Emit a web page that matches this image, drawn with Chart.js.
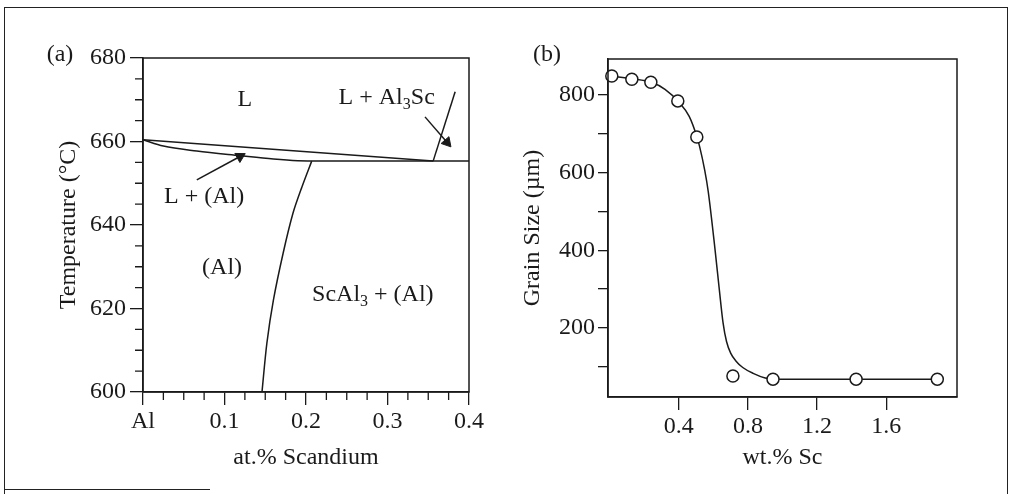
<!DOCTYPE html>
<html>
<head>
<meta charset="utf-8">
<script src="https://cdn.jsdelivr.net/npm/chart.js@4.4.1/dist/chart.umd.min.js"></script>
<style>
  html, body { margin: 0; padding: 0; background: #fff; }
  body { width: 1017px; height: 494px; position: relative; overflow: hidden; font-family: "Liberation Serif", serif; color: #1a1a1a; }
  canvas { position: absolute; top: 0; }
  #chartA { left: 0; }
  #chartB { left: 500px; }
  .frame { position: absolute; box-sizing: border-box; left: 4px; top: 7px; width: 1004px; height: 500px; border: 1.5px solid #222; border-bottom: none; }
  .frame-foot { position: absolute; left: 4px; top: 489px; width: 206px; border-top: 1.5px solid #222; }
  .panel { position: absolute; font-size: 24px; line-height: 1; transform: translate(-50%, -50%); }
</style>
</head>
<body>
<div class="frame"></div>
<div class="frame-foot"></div>
<canvas id="chartA" width="500" height="494"></canvas>
<canvas id="chartB" width="517" height="494"></canvas>
<div class="panel" style="left:60px;top:53px">(a)</div>
<div class="panel" style="left:547px;top:53px">(b)</div>
<script>
const ink = "#1a1a1a";

// (a) Al-Sc phase diagram
const scTicks = [0, 0.1, 0.2, 0.3, 0.4];
const scTickLabels = ["Al", "0.1", "0.2", "0.3", "0.4"];
const scMinorTicks = [0.025, 0.05, 0.075, 0.125, 0.15, 0.175, 0.225, 0.25, 0.275, 0.325, 0.35, 0.375];
const tempTicks = [600, 620, 640, 660, 680];
const tempMinorTicks = [605, 610, 615, 625, 630, 635, 645, 650, 655, 665, 670, 675];

const liquidusSc = [0, 0.356];
const liquidusT = [660.4, 655.3];
const al3ScLiquidusSc = [0.356, 0.383];
const al3ScLiquidusT = [655.3, 671.9];
const solidusSc = [0, 0.025, 0.066, 0.119, 0.16, 0.19, 0.215, 0.4];
const solidusT = [660.4, 658.9, 657.7, 656.6, 655.8, 655.4, 655.3, 655.3];
const solvusSc = [0.146, 0.152, 0.16, 0.172, 0.184, 0.195, 0.207];
const solvusT = [600, 611.7, 622, 633.3, 642.8, 649.1, 655.3];
const arrowLowSc = [0.066, 0.119];
const arrowLowT = [650.8, 656.4];
const arrowHighSc = [0.346, 0.373];
const arrowHighT = [665.9, 659.8];

// odd entries of text are subscripts
const phaseLabels = [
    { sc: 0.125, t: 669.9, text: ["L"] },
    { sc: 0.299, t: 670.4, text: ["L + Al", "3", "Sc"] },
    { sc: 0.075, t: 646.7, text: ["L + (Al)"] },
    { sc: 0.097, t: 629.7, text: ["(Al)"] },
    { sc: 0.282, t: 623.4, text: ["ScAl", "3", " + (Al)"] }
];

// (b) grain size vs Sc content
const grainTicks = [100, 200, 300, 400, 500, 600, 700, 800];
const grainTickLabels = ["", "200", "", "400", "", "600", "", "800"];
const wtTicks = [0.4, 0.8, 1.2, 1.6];
const wtTickLabels = ["0.4", "0.8", "1.2", "1.6"];
const wtSc = [0.012, 0.128, 0.238, 0.394, 0.504, 0.713, 0.945, 1.426, 1.896];
const grainSize = [849, 841, 833, 785, 692, 76, 68, 68, 68];
const fitSc = [0.01, 0.13, 0.24, 0.32, 0.40, 0.46, 0.505, 0.52, 0.55, 0.57, 0.61, 0.634, 0.656, 0.676, 0.70, 0.73, 0.77, 0.83, 0.90, 0.945, 1.43, 1.90];
const fitSize = [849, 842, 833, 815, 782, 745, 692, 668, 606, 552, 400, 300, 213, 165, 135, 115, 98, 83, 71, 68, 68, 68];

Chart.defaults.font.family = "'Liberation Serif', 'Times New Roman', serif";
Chart.defaults.font.size = 24;
Chart.defaults.color = ink;
Chart.defaults.animation = false;
Chart.defaults.events = [];
Chart.defaults.plugins.legend.display = false;
Chart.defaults.plugins.tooltip.enabled = false;

const pairs = (xs, ys) => xs.map((x, i) => ({ x, y: ys[i] }));

const lineSet = (xs, ys, extra) => ({
    data: pairs(xs, ys),
    showLine: true,
    borderColor: ink,
    borderWidth: 1.5,
    pointRadius: 0,
    ...extra
});

const arrowSet = (xs, ys, angle) => lineSet(xs, ys, {
    pointRadius: [0, 6],
    pointStyle: "triangle",
    pointRotation: [0, angle],
    pointBackgroundColor: ink,
    pointBorderColor: ink,
    pointBorderWidth: 1
});

const fixedTicks = (values) => (s) => {
    s.ticks = values.map((value) => ({ value }));
};

const axisStyle = (tickLength) => ({
    grid: { drawOnChartArea: false, tickLength, color: ink, lineWidth: 1.3 },
    border: { color: ink, width: 1.5 }
});

// box round the plot area
const boxFrame = {
    id: "boxFrame",
    afterDraw(chart) {
        const { ctx, chartArea: a } = chart;
        ctx.save();
        ctx.strokeStyle = ink;
        ctx.lineWidth = 1.5;
        ctx.strokeRect(a.left, a.top, a.right - a.left, a.bottom - a.top);
        ctx.restore();
    }
};

// minor ticks and region names of the phase diagram
const phaseNotes = {
    id: "phaseNotes",
    afterDraw(chart) {
        const { ctx, chartArea: a, scales: { x, y } } = chart;
        ctx.save();
        ctx.strokeStyle = ink;
        ctx.lineWidth = 1.3;
        ctx.beginPath();
        scMinorTicks.forEach((v) => {
            const px = x.getPixelForValue(v);
            ctx.moveTo(px, a.bottom);
            ctx.lineTo(px, a.bottom + 8);
        });
        tempMinorTicks.forEach((v) => {
            const py = y.getPixelForValue(v);
            ctx.moveTo(a.left, py);
            ctx.lineTo(a.left - 8, py);
        });
        ctx.stroke();

        ctx.fillStyle = ink;
        ctx.textBaseline = "middle";
        ctx.textAlign = "left";
        phaseLabels.forEach((l) => {
            const fonts = l.text.map((s, i) => (i % 2 ? "16px 'Liberation Serif'" : "24px 'Liberation Serif'"));
            const widths = l.text.map((s, i) => {
                ctx.font = fonts[i];
                return ctx.measureText(s).width;
            });
            let px = x.getPixelForValue(l.sc) - widths.reduce((p, w) => p + w, 0) / 2;
            const py = y.getPixelForValue(l.t);
            l.text.forEach((s, i) => {
                ctx.font = fonts[i];
                ctx.fillText(s, px, i % 2 ? py + 7 : py);
                px += widths[i];
            });
        });
        ctx.restore();
    }
};

new Chart(document.getElementById("chartA"), {
    type: "scatter",
    data: {
        datasets: [
            lineSet(liquidusSc, liquidusT),
            lineSet(al3ScLiquidusSc, al3ScLiquidusT),
            lineSet(solidusSc, solidusT, { cubicInterpolationMode: "monotone" }),
            lineSet(solvusSc, solvusT, { tension: 0.3 }),
            arrowSet(arrowLowSc, arrowLowT, 61),
            arrowSet(arrowHighSc, arrowHighT, 139)
        ]
    },
    options: {
        responsive: false,
        layout: { padding: { top: 58, right: 31, bottom: 0, left: 0 } },
        scales: {
            x: {
                type: "linear",
                min: 0,
                max: 0.4,
                afterBuildTicks: fixedTicks(scTicks),
                afterFit: (s) => { s.height = 102; },
                ticks: {
                    padding: 2,
                    maxRotation: 0,
                    autoSkip: false,
                    callback: (v) => scTickLabels[scTicks.indexOf(v)]
                },
                ...axisStyle(13),
                title: { display: true, text: "at.% Scandium", padding: { top: 0, bottom: 22 } }
            },
            y: {
                type: "linear",
                min: 600,
                max: 680,
                afterBuildTicks: fixedTicks(tempTicks),
                afterFit: (s) => { s.width = 143; },
                ticks: { padding: 4, callback: (v) => String(v) },
                ...axisStyle(13),
                title: { display: true, text: "Temperature (°C)", padding: { top: 54, bottom: 0 } }
            }
        }
    },
    plugins: [boxFrame, phaseNotes]
});

new Chart(document.getElementById("chartB"), {
    type: "scatter",
    data: {
        datasets: [
            {
                data: pairs(wtSc, grainSize),
                pointRadius: 6,
                pointBorderWidth: 1.5,
                pointBackgroundColor: "#fff",
                pointBorderColor: ink,
                clip: false,
                order: 0
            },
            lineSet(fitSc, fitSize, { cubicInterpolationMode: "monotone", order: 1 })
        ]
    },
    options: {
        responsive: false,
        layout: { padding: { top: 59, right: 60, bottom: 0, left: 0 } },
        scales: {
            x: {
                type: "linear",
                min: -0.01,
                max: 2.01,
                afterBuildTicks: fixedTicks(wtTicks),
                afterFit: (s) => { s.height = 97; },
                ticks: {
                    padding: 2,
                    maxRotation: 0,
                    autoSkip: false,
                    callback: (v) => wtTickLabels[wtTicks.indexOf(v)]
                },
                ...axisStyle(13),
                title: { display: true, text: "wt.% Sc", padding: { top: 0, bottom: 22 } }
            },
            y: {
                type: "linear",
                min: 22,
                max: 893,
                afterBuildTicks: fixedTicks(grainTicks),
                afterFit: (s) => { s.width = 108; },
                ticks: { padding: 3, callback: (v) => grainTickLabels[grainTicks.indexOf(v)] },
                ...axisStyle(10),
                title: { display: true, text: "Grain Size (µm)", padding: { top: 18, bottom: 0 } }
            }
        }
    },
    plugins: [boxFrame]
});
</script>
</body>
</html>
